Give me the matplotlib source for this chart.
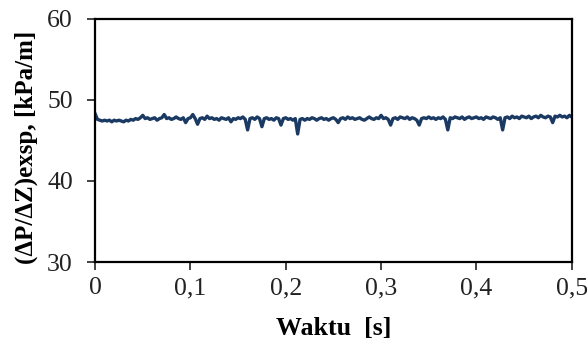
import matplotlib
matplotlib.use('Agg')
import matplotlib.pyplot as plt
import numpy as np

# Gradien tekanan hasil eksperimen, sampel tiap 0,0025 s
dp_exsp = [
    48.3, 47.6, 47.5, 47.4, 47.5, 47.4, 47.5, 47.3, 47.5, 47.4,
    47.5, 47.4, 47.3, 47.5, 47.4, 47.6, 47.5, 47.7, 47.6, 47.8,
    48.1, 47.7, 47.8, 47.6, 47.7, 47.8, 47.5, 47.7, 47.8, 48.2,
    47.7, 47.8, 47.6, 47.7, 47.9, 47.7, 47.6, 47.8, 47.2, 47.7,
    47.8, 48.2, 47.7, 47.0, 47.7, 47.8, 47.6, 48.0, 47.7, 47.8,
    47.6, 47.7, 47.5, 47.8, 47.7, 47.6, 47.8, 47.3, 47.7, 47.6,
    47.8, 47.7, 47.9, 47.6, 46.3, 47.7, 47.8, 47.6, 47.9, 47.7,
    46.7, 47.7, 47.8, 47.6, 47.7, 47.5, 47.8, 47.7, 46.9, 47.7,
    47.8, 47.6, 47.7, 47.5, 47.7, 45.8, 47.6, 47.7, 47.5, 47.7,
    47.6, 47.8, 47.7, 47.5, 47.7, 47.8, 47.6, 47.7, 47.5, 47.7,
    47.8, 47.6, 47.2, 47.7, 47.8, 47.6, 47.9, 47.7, 47.8, 47.6,
    47.7, 47.8, 47.6, 47.5, 47.7, 47.9, 47.7, 47.6, 47.8, 47.7,
    48.1, 47.7, 47.8, 47.6, 46.9, 47.7, 47.8, 47.6, 47.9, 47.8,
    47.7, 47.9, 47.6, 47.8, 47.7, 47.5, 46.9, 47.7, 47.8, 47.7,
    47.9, 47.7, 47.8, 47.6, 47.8, 47.7, 47.9, 47.6, 46.3, 47.8,
    47.7, 47.9, 47.8, 47.7, 47.9, 47.6, 47.8, 47.9, 47.7, 47.8,
    47.9, 47.7, 47.8, 47.6, 47.9, 47.8, 47.7, 47.9, 47.8, 47.6,
    47.8, 46.3, 47.8, 47.9, 47.7, 48.0, 47.8, 47.9, 47.7, 48.0,
    47.9, 47.8, 48.0, 47.7, 47.9, 48.0, 47.8, 48.1, 47.9, 47.8,
    48.0, 47.9, 47.2, 48.0, 47.9, 48.1, 47.9, 48.0, 47.8, 48.1,
    47.9,
]
waktu = np.linspace(0, 0.5, len(dp_exsp))

x_ticks = [0, 0.1, 0.2, 0.3, 0.4, 0.5]
x_ticklabels = ['0', '0,1', '0,2', '0,3', '0,4', '0,5']
y_ticks = [30, 40, 50, 60]

plt.rcParams['font.family'] = ['Liberation Serif', 'DejaVu Serif']

fig = plt.figure(figsize=(5.87, 3.43), dpi=100)
ax = fig.add_axes([0.162, 0.236, 0.812, 0.709])

ax.plot(waktu, dp_exsp, color='#1b3a63', linewidth=2.4)

ax.set_xlim(0, 0.5)
ax.set_ylim(30, 60)
ax.set_xticks(x_ticks)
ax.set_xticklabels(x_ticklabels)
ax.set_yticks(y_ticks)
ax.tick_params(axis='both', direction='out', length=6, width=1.2,
               labelsize=18.5, colors='#222222')
ax.tick_params(axis='x', pad=5)
ax.tick_params(axis='y', pad=10)

for s in ax.spines.values():
    s.set_linewidth(1.6)
    s.set_color('black')

ax.set_xlabel('Waktu  [s]', fontsize=18.6, fontweight='bold')
ax.set_ylabel('(ΔP/ΔZ)exsp, [kPa/m]', fontsize=18, fontweight='bold')
ax.xaxis.set_label_coords(0.5, -0.225)
ax.yaxis.set_label_coords(-0.12, 0.47)

plt.savefig('out.png', dpi=100)
plt.close(fig)
